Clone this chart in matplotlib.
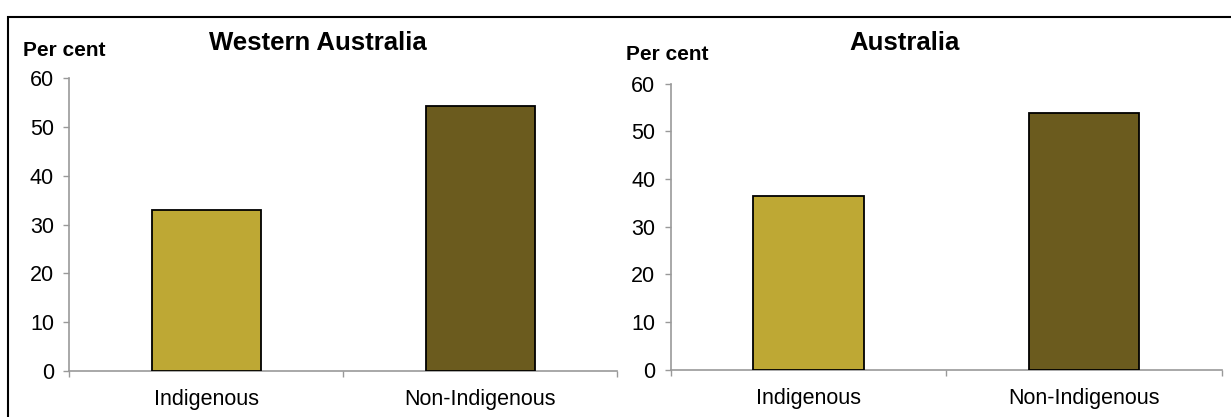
import matplotlib.pyplot as plt
from matplotlib.patches import Rectangle

plt.rcParams['font.family'] = ['Liberation Sans', 'DejaVu Sans']

# Дані
categories = ['Indigenous', 'Non-Indigenous']
wa_values = [33.0, 54.4]
aus_values = [36.4, 53.9]
panel_titles = ['Western Australia', 'Australia']
bar_colors = ['#BEA834', '#6B5B1E']
y_ticks = [0, 10, 20, 30, 40, 50, 60]

fig = plt.figure(figsize=(12.31, 4.17), dpi=100)

# зовнішня рамка
fig.patches.append(Rectangle((8 / 1231, -0.1), 1.2, (417 - 17) / 417 + 0.1,
                             transform=fig.transFigure, fill=False,
                             edgecolor='black', linewidth=1.5))

ax_left = fig.add_axes([0.0563, 0.1103, 0.4453, 0.7019])
ax_right = fig.add_axes([0.5448, 0.1134, 0.4479, 0.6859])

axis_grey = '#999999'

for ax, vals, title in zip([ax_left, ax_right], [wa_values, aus_values], panel_titles):
    x = list(range(len(categories)))
    ax.bar(x, vals, width=0.4, color=bar_colors, edgecolor='black', linewidth=1.3, zorder=3)
    ax.set_xlim(-0.5, len(categories) - 0.5)
    ax.set_ylim(0, 60)
    ax.set_yticks(y_ticks)
    ax.tick_params(axis='y', labelsize=15.5, length=4, width=1, color=axis_grey, pad=7)

    # підписи категорій та поділки між ними
    ax.set_xticks([-0.5, 0.5, 1.5])
    ax.set_xticklabels([])
    ax.set_xticks(x, minor=True)
    ax.set_xticklabels(categories, minor=True, fontsize=15.5)
    ax.tick_params(axis='x', which='major', length=4, width=1, color=axis_grey)
    ax.tick_params(axis='x', which='minor', length=0, pad=13)

    for side in ['top', 'right']:
        ax.spines[side].set_visible(False)
    for side in ['left', 'bottom']:
        ax.spines[side].set_color(axis_grey)
        ax.spines[side].set_linewidth(1.2)

fig.text(318 / 1231, 1 - 43 / 417, panel_titles[0], ha='center', va='center',
         fontsize=18.5, fontweight='bold')
fig.text(905 / 1231, 1 - 43 / 417, panel_titles[1], ha='center', va='center',
         fontsize=18.5, fontweight='bold')
fig.text(23 / 1231, 1 - 50 / 417, 'Per cent', ha='left', va='center',
         fontsize=15, fontweight='bold')
fig.text(626 / 1231, 1 - 55 / 417, 'Per cent', ha='left', va='center',
         fontsize=15, fontweight='bold')

fig.savefig('out.png', dpi=100)
